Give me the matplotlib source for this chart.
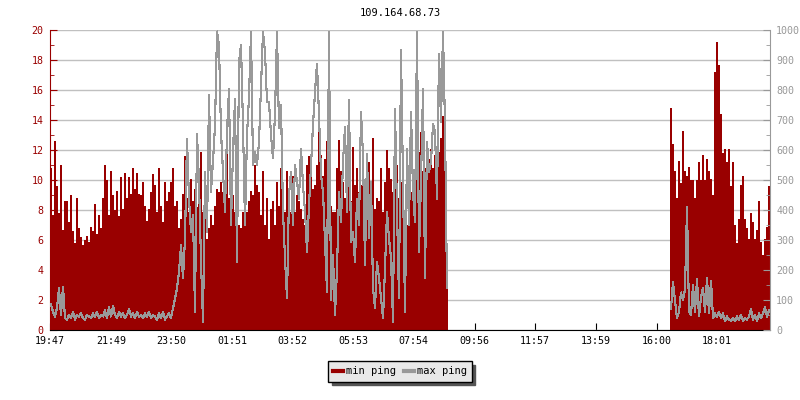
import numpy as np
import matplotlib
matplotlib.use("Agg")
import matplotlib.pyplot as plt
from matplotlib.lines import Line2D
from matplotlib.ticker import MultipleLocator

plt.rcParams['font.family'] = 'DejaVu Sans Mono'

title = "109.164.68.73"
start_time = "19:47"
span_min = 24 * 60
step_min = 4  # one sample every 4 minutes

xtick_labels = ["19:47", "21:49", "23:50", "01:51", "03:52", "05:53",
                "07:54", "09:56", "11:57", "13:59", "16:00", "18:01"]

# first block of data (19:47 -> ~09:04), min ping on the left axis
seg1_start = "19:47"
seg1_min_ping = [
    10.8, 7.7, 12.6, 9.6, 7.8, 11.0, 6.7, 8.6, 8.6, 7.2, 9.0, 6.6, 5.8, 8.8, 6.8,
    6.2, 5.7, 6.0, 6.3, 5.9, 6.9, 6.6, 8.4, 6.4, 7.7,
    6.8, 8.8, 11.0, 10.0, 7.7, 10.6, 9.0, 8.0, 9.3, 7.6, 10.2, 8.1, 10.5, 8.8, 10.2,
    9.1, 10.8, 9.4, 10.5, 9.1, 9.0, 9.9, 8.3, 7.3, 8.1, 9.2, 10.4,
    9.7, 7.9, 10.8, 8.3, 7.2, 9.9, 8.6, 9.2, 9.9, 10.8, 8.3, 8.6, 6.8, 7.4, 9.1,
    11.6, 8.8, 7.9, 10.1, 8.6, 9.4, 8.2, 10.1, 11.9, 7.9, 9.7, 6.1, 6.8, 7.7, 7.0,
    8.3, 9.4, 9.2, 9.9, 9.2, 7.9, 12.6, 8.8, 7.9, 9.0, 7.9, 8.8, 7.0, 6.8, 7.9,
    7.2, 7.9, 8.6, 9.3, 9.0,
    11.0, 9.7, 9.2, 7.7, 10.6, 7.0, 8.8, 6.1, 8.1, 8.6, 7.0, 9.9, 8.3, 10.8, 9.0,
    7.9, 10.6, 8.6, 7.9, 10.3, 7.9, 9.0, 8.6, 8.1, 7.4, 7.0, 11.0, 11.6, 11.0, 9.4,
    9.7, 11.0, 13.4, 11.7, 10.3, 11.4, 12.6, 11.4, 8.3, 7.9, 7.9, 10.8, 12.7, 10.6,
    9.9, 8.8, 9.7, 11.2, 8.6, 12.2,
    9.7, 10.8, 9.2, 9.7, 10.1, 9.2, 9.4, 11.2, 7.9, 12.8, 8.1, 8.8, 8.6, 10.8, 7.9,
    9.9, 12.0, 10.8, 10.1, 9.2, 11.2, 11.0, 8.8, 9.9, 10.6, 7.9, 7.0, 9.4, 9.2, 10.1,
    9.9, 11.2, 11.9, 13.2, 10.6, 10.8, 11.2, 11.4, 12.1, 10.8, 11.7, 12.1, 11.9,
    12.8, 14.3, 12.5, 3.7,
]
# max ping on the right axis
seg1_max_ping = [
    85, 60, 45, 75, 140, 50, 145, 40, 35, 50, 40, 60, 35, 50, 45, 55, 40, 35, 50, 45,
    40, 55, 45, 60, 40,
    50, 45, 65, 40, 75, 45, 80, 50, 40, 60, 45, 55, 40, 50, 70, 45, 55, 40, 60, 45,
    50, 40, 55, 45, 60, 40, 50,
    45, 35, 55, 40, 60, 35, 45, 55, 40, 72, 105, 139, 194, 283, 172, 305, 638, 438,
    327, 383, 61, 655, 494, 228, 28, 527, 327, 783, 461, 561, 683, 995, 950, 660,
    527, 394, 660, 805, 350, 594, 770, 228, 893, 950, 683, 350, 650, 777, 995, 550,
    594, 550, 627, 816, 995, 927, 760, 760, 650, 572, 722, 995, 672, 750, 394, 239,
    105, 450, 527, 350, 550, 494, 438, 605, 483, 394, 261, 416, 550, 683, 794, 888,
    716, 516, 461, 294, 127, 995, 100, 250, 50, 200, 461, 361, 561, 677, 394, 766,
    294, 327,
    228, 438, 350, 727, 583, 216, 588, 305, 494, 139, 72, 228, 172, 105, 39, 205,
    394, 305, 239, 28, 738, 394, 105, 932, 494, 61, 605, 350, 727, 461, 361, 995,
    261, 494, 805, 172, 627, 527, 561, 688, 661, 438, 921, 694, 995, 683, 139,
]

# second block of data (16:27 -> 19:47)
seg2_start = "16:27"
seg2_min_ping = [
    14.8, 12.4, 10.6, 8.8, 11.3, 9.8, 13.3, 10.6, 10.3, 10.9,
    10.0, 10.0, 8.8, 10.0, 11.2, 10.0, 11.7, 10.0, 11.4, 10.6,
    10.1, 9.0, 17.2, 19.2, 17.7, 14.4, 11.8, 12.1, 11.2, 12.1,
    9.6, 11.2, 7.0, 5.8, 7.4, 9.7, 10.3, 7.4, 6.8, 6.1,
    7.8, 7.2, 6.1, 6.7, 8.6, 5.9, 5.0, 6.1, 6.9, 9.6,
]
seg2_max_ping = [
    70, 160, 100, 40, 60, 125, 100, 135, 410, 60,
    50, 150, 60, 170, 45, 110, 140, 60, 175, 55,
    165, 40, 55, 45, 60, 40, 55, 30, 45, 35,
    30, 40, 30, 45, 35, 50, 30, 40, 35, 45,
    70, 35, 50, 30, 55, 40, 55, 75, 45, 65,
]

RED = "#990000"
GRAY = "#999999"


def minutes_from_start(hhmm):
    h, m = map(int, hhmm.split(":"))
    h0, m0 = map(int, start_time.split(":"))
    return ((h * 60 + m) - (h0 * 60 + m0)) % span_min


def segment(start, values):
    # repeat last value so the last step gets drawn
    t = minutes_from_start(start) + step_min * np.arange(len(values) + 1)
    return t, np.append(values, values[-1])


fig = plt.figure(figsize=(8, 4), dpi=100)
ax = fig.add_axes([50 / 800, 70 / 400, 720 / 800, 300 / 400])
ax2 = ax.twinx()

for start, mins, maxs in [(seg1_start, seg1_min_ping, seg1_max_ping),
                          (seg2_start, seg2_min_ping, seg2_max_ping)]:
    t, v = segment(start, mins)
    ax.fill_between(t, 0, v, step='post', color=RED, linewidth=0,
                    antialiased=False)
    t, v = segment(start, maxs)
    # plain line (not steps): gives the dense zig-zag look of the original
    ax2.plot(t[:-1] + step_min / 2, v[:-1], color=GRAY, lw=0.8,
             antialiased=False)

ax.set_xlim(0, span_min)
ax.set_ylim(0, 20)
ax2.set_ylim(0, 1000)

ax.set_xticks([minutes_from_start(s) for s in xtick_labels])
ax.set_xticklabels(xtick_labels)
ax.yaxis.set_major_locator(MultipleLocator(2))
ax.yaxis.set_minor_locator(MultipleLocator(1))
ax2.yaxis.set_major_locator(MultipleLocator(100))
ax2.yaxis.set_minor_locator(MultipleLocator(50))

ax.grid(axis='y', color='#c0c0c0', lw=1)
ax.set_axisbelow(True)

for s in ['top', 'right']:
    ax.spines[s].set_visible(False)
for s in ['top', 'left', 'bottom']:
    ax2.spines[s].set_visible(False)
ax.spines['left'].set_color(RED)
ax.spines['bottom'].set_color('black')
ax2.spines['right'].set_color(GRAY)

ax.tick_params(axis='y', which='both', direction='in', color=RED,
               labelcolor=RED, labelsize=7.2, pad=4.5)
ax.tick_params(axis='y', which='major', length=5)
ax.tick_params(axis='y', which='minor', length=3)
ax.tick_params(axis='x', direction='in', length=5, color='black',
               labelcolor='black', labelsize=7.2, pad=4)
ax2.tick_params(axis='y', which='both', direction='in', color=GRAY,
                labelcolor=GRAY, labelsize=7.2, pad=4.5)
ax2.tick_params(axis='y', which='major', length=5)
ax2.tick_params(axis='y', which='minor', length=3)

fig.text(0.5, 1 - 13.5 / 400, title, ha='center', va='center', fontsize=7.5)

handles = [Line2D([], [], color=RED, lw=3), Line2D([], [], color=GRAY, lw=3)]
fig.legend(handles, ['min ping', 'max ping'], loc='center',
           bbox_to_anchor=(0.5, 1 - 371.5 / 400), ncol=2, fancybox=False,
           edgecolor='black', facecolor='#e8e8e8', framealpha=1, fontsize=7.5,
           handlelength=0.9, handletextpad=0.3, columnspacing=0.8,
           borderpad=0.5, borderaxespad=0,
           shadow={'color': '#555555', 'alpha': 1, 'ox': 2.5, 'oy': -2.5})

fig.savefig("out.png", dpi=100)
